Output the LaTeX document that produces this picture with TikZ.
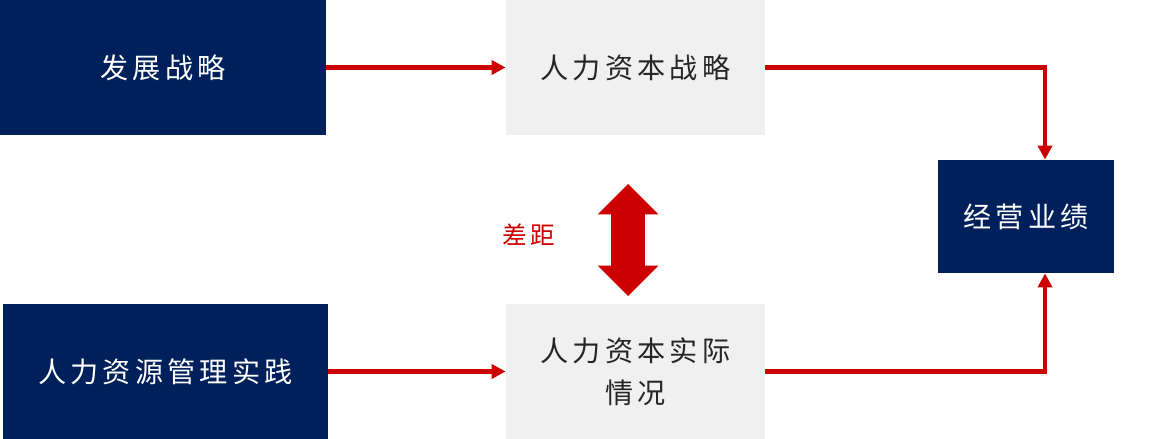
\documentclass[tikz,border=0pt]{standalone}
\usepackage{fontspec}
\setmainfont{Noto Sans CJK SC}[LetterSpace=15]
\newfontfamily\cjklabel{Noto Sans CJK SC}[LetterSpace=15]
\usetikzlibrary{arrows.meta,shapes.arrows}
\definecolor{navy}{HTML}{00205B}
\definecolor{pale}{HTML}{F0F0F0}
\definecolor{accent}{HTML}{CC0000}
\definecolor{ink}{HTML}{262626}

\begin{document}
\begin{tikzpicture}[
  font=\fontsize{16}{22}\selectfont,
  navybox/.style={fill=navy, text=white, minimum height=2.70cm, align=center, inner sep=0pt},
  palebox/.style={fill=pale, text=ink, minimum width=5.18cm, minimum height=2.70cm, align=center, inner sep=0pt},
  flow/.style={-{Triangle[length=2.8mm,width=2.8mm]}, draw=accent, line width=2.3pt}
]
  \useasboundingbox (0,0) rectangle (23.04,-8.78);

  \node[navybox, minimum width=6.52cm] (strat) at (3.26,-1.35) {发展战略};
  \node[palebox] (hcs) at (12.71,-1.35) {人力资本战略};
  \node[navybox, minimum width=3.52cm, minimum height=2.26cm] (perf) at (20.52,-4.33) {经营业绩};
  \node[navybox, minimum width=6.50cm] (hrm) at (3.31,-7.43) {人力资源管理实践};
  \node[palebox] (hca) at (12.71,-7.43) {人力资本实际\\[2pt]情况};

  \coordinate (turn) at (20.90,0);
  \draw[flow] (strat) -- (hcs);
  \draw[flow] (hrm) -- (hca);
  \draw[flow] (hcs.east) -| (turn |- perf.north);
  \draw[flow] (hca.east) -| (turn |- perf.south);

  % gap between strategy and actual state
  \node[double arrow, fill=accent, rotate=90, inner xsep=0pt, inner ysep=0.33cm,
    minimum height=2.24cm, double arrow head extend=0.27cm] (gap) at (12.56,-4.80) {};
  \node[text=accent, font=\cjklabel\fontsize{14}{16}\selectfont] (gaplabel) at (10.58,-4.70) {差距};
\end{tikzpicture}
\end{document}
